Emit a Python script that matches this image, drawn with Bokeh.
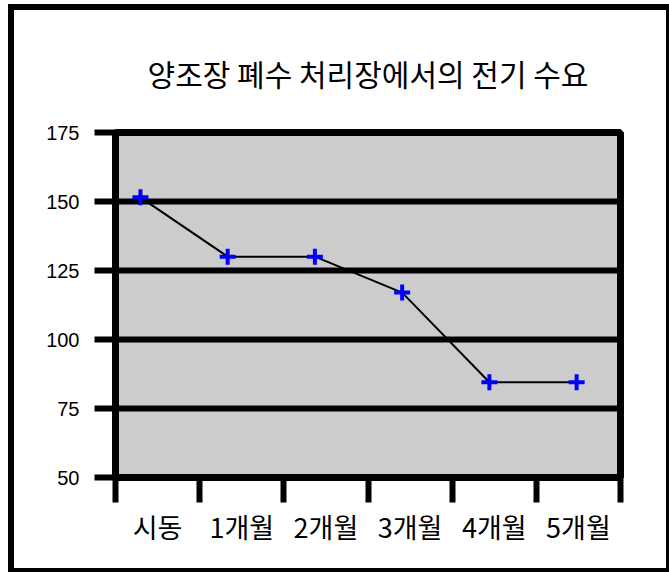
from bokeh.plotting import figure
from bokeh.models import Range1d, FixedTicker, LinearAxis, Grid
from bokeh.embed import file_html
from bokeh.resources import INLINE

title_text = "양조장 폐수 처리장에서의 전기 수요"
categories = ["시동", "1개월", "2개월", "3개월", "4개월", "5개월"]
demand = [151.5, 130, 130, 117, 84.5, 84.5]
y_ticks = [50, 75, 100, 125, 150, 175]

idx = list(range(len(categories)))

p = figure(width=652, height=558, output_backend="svg", toolbar_location=None,
           x_range=Range1d(0, len(categories)), y_range=Range1d(50, 175),
           x_axis_type=None, y_axis_type=None,
           min_border_left=101, min_border_right=55,
           min_border_top=120, min_border_bottom=101)
p.styles = {"border-style": "solid", "border-color": "black",
            "border-width": "6px 3px 4px 6px",
            "box-sizing": "content-box",
            "margin-left": "8px", "margin-top": "4px"}
p.extra_x_ranges = {"pts": Range1d(-0.286, 5.503)}

p.background_fill_color = "#cccccc"
p.border_fill_color = "white"
p.outline_line_color = "black"
p.outline_line_width = 7

# title
p.title.text = title_text
p.title.text_font = "Noto Sans CJK KR"
p.title.text_font_size = "30px"
p.title.text_font_style = "normal"
p.title.text_color = "black"
p.title.align = "center"
p.title.standoff = 76

# y axis
yaxis = LinearAxis(ticker=FixedTicker(ticks=y_ticks))
yaxis.axis_line_color = "black"
yaxis.axis_line_width = 7
yaxis.major_tick_out = 21
yaxis.major_tick_in = 0
yaxis.major_tick_line_width = 6
yaxis.minor_tick_line_color = None
yaxis.major_label_standoff = 15
yaxis.major_label_text_font = "Liberation Sans"
yaxis.major_label_text_font_size = "20px"
yaxis.major_label_text_color = "black"
p.add_layout(yaxis, "left")

# x axis: labels at band centers, boundary ticks as minor ticks
centers = [i + 0.5 for i in idx]
xaxis = LinearAxis(ticker=FixedTicker(ticks=centers, minor_ticks=list(range(len(categories) + 1))))
xaxis.major_label_overrides = {c: cat for c, cat in zip(centers, categories)}
xaxis.axis_line_color = "black"
xaxis.axis_line_width = 7
xaxis.major_tick_line_color = None
xaxis.major_tick_out = 0
xaxis.major_tick_in = 0
xaxis.minor_tick_out = 25
xaxis.minor_tick_in = 0
xaxis.minor_tick_line_width = 6
xaxis.minor_tick_line_color = "black"
xaxis.major_label_standoff = 4
xaxis.major_label_text_font = "Noto Sans CJK KR"
xaxis.major_label_text_font_size = "27px"
xaxis.major_label_text_color = "black"
p.add_layout(xaxis, "below")

# grid
p.xgrid.visible = False
p.ygrid.visible = False
g = Grid(dimension=1, ticker=FixedTicker(ticks=[75, 100, 125, 150]))
g.grid_line_color = "black"
g.grid_line_width = 6
p.add_layout(g)

# data
p.line(idx, demand, x_range_name="pts", line_color="black", line_width=2)
p.scatter(idx, demand, x_range_name="pts", marker="cross", size=16,
          line_color="#0000ff", line_width=4)

open("out.html", "w").write(file_html(p, INLINE))
